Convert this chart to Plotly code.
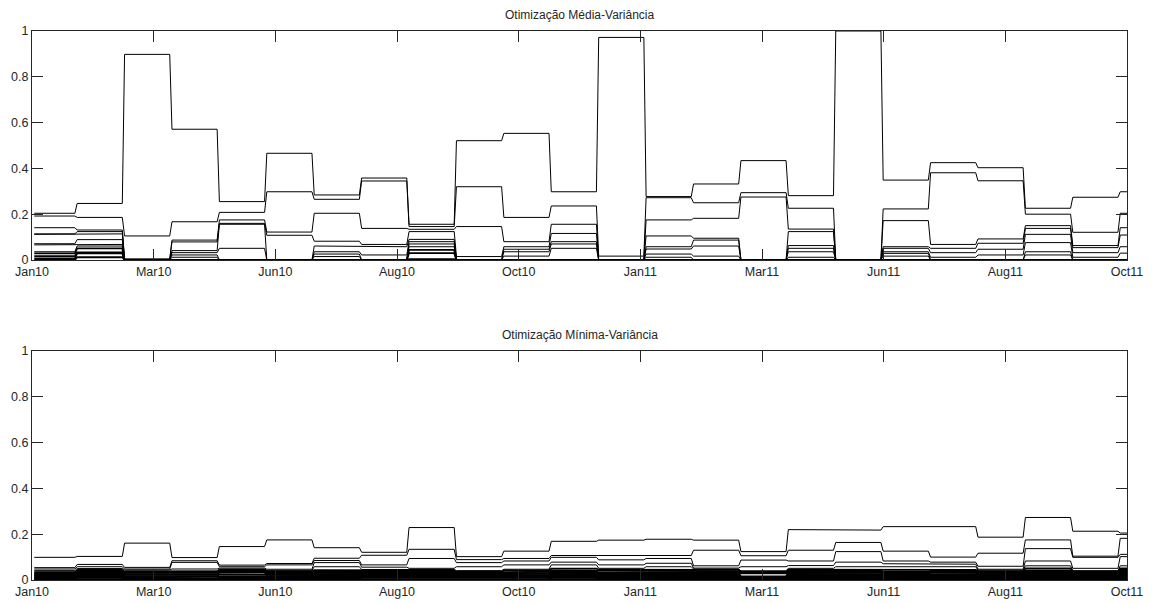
import plotly.graph_objects as go

# ---------------- data ----------------
tick_labels = ["Jan10", "Mar10", "Jun10", "Aug10", "Oct10",
               "Jan11", "Mar11", "Jun11", "Aug11", "Oct11"]

# first trading day of each rebalancing period, and the last day shown
period_start_day = [1, 20, 41, 62, 83, 104, 125, 146, 167, 188, 209, 230,
                    251, 272, 293, 314, 335, 356, 377, 398, 419, 440, 461, 482]
last_day = 485

# Mean-variance portfolio weights per period (one list per period)
mv_weights = [
    [0.204, 0.192, 0.141, 0.114, 0.112, 0.071, 0.066, 0.036, 0.029, 0.017, 0.007],
    [0.247, 0.186, 0.131, 0.124, 0.114, 0.089, 0.068, 0.061, 0.051, 0.033, 0.029, 0.012],
    [0.898, 0.105, 0.005],
    [0.571, 0.167, 0.087, 0.079, 0.041, 0.032, 0.022, 0.012],
    [0.255, 0.208, 0.175, 0.160, 0.156, 0.051],
    [0.466, 0.298, 0.122, 0.108],
    [0.284, 0.265, 0.204, 0.082, 0.061, 0.036, 0.026, 0.015],
    [0.358, 0.345, 0.138, 0.068, 0.058, 0.022],
    [0.156, 0.146, 0.134, 0.124, 0.090, 0.080, 0.070, 0.058, 0.044, 0.030, 0.004],
    [0.521, 0.320, 0.146, 0.015],
    [0.553, 0.186, 0.080, 0.058, 0.047, 0.036, 0.017],
    [0.298, 0.236, 0.156, 0.116, 0.080, 0.070, 0.051],
    [0.972, 0.017],
    [0.277, 0.272, 0.175, 0.105, 0.058, 0.048, 0.026, 0.012],
    [0.332, 0.250, 0.182, 0.095, 0.087, 0.061, 0.017],
    [0.434, 0.294, 0.275],
    [0.281, 0.226, 0.135, 0.124, 0.063, 0.051, 0.036, 0.012],
    [1.000],
    [0.349, 0.223, 0.172, 0.058, 0.051, 0.036, 0.029, 0.017],
    [0.425, 0.381, 0.068, 0.051, 0.032, 0.012],
    [0.403, 0.346, 0.092, 0.073, 0.047, 0.022],
    [0.226, 0.200, 0.150, 0.138, 0.112, 0.076, 0.036, 0.022],
    [0.274, 0.121, 0.063, 0.054, 0.032, 0.012],
    [0.298, 0.204, 0.141, 0.109, 0.058, 0.030],
]

# Minimum-variance portfolio weights per period
minvar_weights = [
    [0.099, 0.054, 0.048, 0.041, 0.036, 0.032, 0.028, 0.024, 0.020, 0.016, 0.012, 0.008, 0.004],
    [0.103, 0.068, 0.058, 0.050, 0.046, 0.042, 0.037, 0.033, 0.028, 0.024, 0.019, 0.014, 0.009, 0.004],
    [0.161, 0.055, 0.048, 0.044, 0.040, 0.035, 0.031, 0.026, 0.022, 0.017, 0.012, 0.007, 0.003],
    [0.098, 0.084, 0.077, 0.048, 0.040, 0.036, 0.031, 0.027, 0.022, 0.018, 0.013, 0.008, 0.004],
    [0.146, 0.065, 0.058, 0.052, 0.048, 0.044, 0.040, 0.036, 0.032, 0.024, 0.015, 0.011, 0.007, 0.003],
    [0.175, 0.072, 0.066, 0.047, 0.042, 0.038, 0.034, 0.030, 0.026, 0.021, 0.017, 0.012, 0.008, 0.004],
    [0.141, 0.095, 0.085, 0.076, 0.058, 0.043, 0.038, 0.034, 0.029, 0.025, 0.021, 0.017, 0.013, 0.009, 0.005],
    [0.121, 0.108, 0.066, 0.056, 0.046, 0.042, 0.037, 0.033, 0.028, 0.024, 0.019, 0.014, 0.009, 0.004],
    [0.229, 0.134, 0.094, 0.051, 0.046, 0.042, 0.037, 0.033, 0.028, 0.024, 0.019, 0.014, 0.009, 0.004],
    [0.102, 0.089, 0.076, 0.058, 0.041, 0.036, 0.033, 0.029, 0.025, 0.021, 0.017, 0.013, 0.009, 0.005],
    [0.126, 0.094, 0.083, 0.066, 0.047, 0.042, 0.036, 0.031, 0.027, 0.022, 0.018, 0.013, 0.009, 0.004],
    [0.169, 0.107, 0.099, 0.078, 0.066, 0.050, 0.042, 0.038, 0.033, 0.029, 0.024, 0.019, 0.014, 0.009, 0.004],
    [0.174, 0.104, 0.088, 0.066, 0.051, 0.045, 0.039, 0.033, 0.029, 0.025, 0.020, 0.015, 0.010, 0.005],
    [0.178, 0.107, 0.094, 0.073, 0.058, 0.044, 0.040, 0.036, 0.031, 0.027, 0.022, 0.017, 0.012, 0.008, 0.004],
    [0.174, 0.130, 0.062, 0.052, 0.048, 0.044, 0.039, 0.035, 0.030, 0.026, 0.021, 0.016, 0.011, 0.006, 0.002],
    [0.124, 0.106, 0.087, 0.058, 0.040, 0.036, 0.032, 0.029, 0.016, 0.012, 0.008, 0.004],
    [0.220, 0.130, 0.083, 0.063, 0.051, 0.045, 0.041, 0.036, 0.032, 0.027, 0.022, 0.017, 0.012, 0.008, 0.004],
    [0.218, 0.164, 0.124, 0.078, 0.058, 0.044, 0.040, 0.036, 0.031, 0.026, 0.021, 0.016, 0.011, 0.007, 0.003],
    [0.233, 0.126, 0.083, 0.071, 0.058, 0.044, 0.036, 0.031, 0.027, 0.023, 0.018, 0.013, 0.009, 0.005],
    [0.233, 0.100, 0.078, 0.069, 0.058, 0.044, 0.040, 0.036, 0.031, 0.026, 0.021, 0.016, 0.011, 0.007, 0.003],
    [0.187, 0.117, 0.060, 0.047, 0.043, 0.039, 0.034, 0.030, 0.025, 0.021, 0.016, 0.011, 0.007, 0.003],
    [0.273, 0.175, 0.137, 0.083, 0.062, 0.051, 0.042, 0.038, 0.034, 0.029, 0.025, 0.020, 0.015, 0.010, 0.006, 0.002],
    [0.213, 0.104, 0.099, 0.051, 0.041, 0.037, 0.033, 0.028, 0.024, 0.019, 0.015, 0.010, 0.006, 0.002],
    [0.205, 0.182, 0.112, 0.102, 0.062, 0.051, 0.045, 0.040, 0.035, 0.030, 0.025, 0.020, 0.015, 0.010, 0.005],
]

titles = ["Otimização Média-Variância", "Otimização Mínima-Variância"]

# ---------------- figure ----------------
AXCOL = "#262626"
FONT = "Liberation Sans, Arial, sans-serif"

period_end_day = [s - 1 for s in period_start_day[1:]] + [last_day]


def stair_traces(weights, xaxis, yaxis):
    n = max(len(w) for w in weights)
    traces = []
    for j in range(n):
        xs, ys = [], []
        for s, e, w in zip(period_start_day, period_end_day, weights):
            ranked = sorted(w, reverse=True)
            v = ranked[j] if j < len(ranked) else 0.0
            xs += [s, e]
            ys += [v, v]
        # the many tiny weights are drawn a bit wider so they merge into a band
        width = 1.8 if max(ys) < 0.06 else 1.0
        traces.append(go.Scatter(x=xs, y=ys, mode="lines",
                                 line=dict(color="#000000", width=width),
                                 xaxis=xaxis, yaxis=yaxis,
                                 hoverinfo="skip", showlegend=False))
    return traces


fig = go.Figure()
for t in stair_traces(mv_weights, "x", "y"):
    fig.add_trace(t)
for t in stair_traces(minvar_weights, "x2", "y2"):
    fig.add_trace(t)

# page body has an 8px margin: figure is placed at (8, 8) on screen
OFF = 8
W, H = 1144, 596
xdom = [(32 - OFF) / W, (1127 - OFF) / W]
top_dom = [1 - (260 - OFF) / H, 1 - (31 - OFF) / H]
bot_dom = [1 - (580 - OFF) / H, 1 - (351 - OFF) / H]

tickfont = dict(family=FONT, size=12.5, color=AXCOL)


def xax(anchor):
    return dict(domain=xdom, anchor=anchor, range=[0, last_day],
                tickmode="array",
                tickvals=[last_day * i / (len(tick_labels) - 1) for i in range(len(tick_labels))],
                ticktext=tick_labels, ticks="inside", ticklen=11, tickwidth=1,
                tickcolor=AXCOL, showline=True, linecolor=AXCOL, linewidth=1,
                mirror="ticks", showgrid=False, zeroline=False,
                tickfont=tickfont, automargin=False)


def yax(anchor, dom):
    return dict(domain=dom, anchor=anchor, range=[0, 1], tickmode="array",
                tickvals=[0, 0.2, 0.4, 0.6, 0.8, 1],
                ticktext=["0", "0.2", "0.4", "0.6", "0.8", "1"],
                ticks="inside", ticklen=11, tickwidth=1, tickcolor=AXCOL,
                showline=True, linecolor=AXCOL, linewidth=1, mirror="ticks",
                showgrid=False, zeroline=False, tickfont=tickfont,
                automargin=False)


fig.update_layout(
    width=W, height=H,
    margin=dict(l=0, r=0, t=0, b=0),
    paper_bgcolor="white", plot_bgcolor="white",
    xaxis=xax("y"), yaxis=yax("x", top_dom),
    xaxis2=xax("y2"), yaxis2=yax("x2", bot_dom),
    showlegend=False, hovermode=False,
)

for title, dom in zip(titles, [top_dom, bot_dom]):
    fig.add_annotation(text=title, xref="paper", yref="paper",
                       x=(xdom[0] + xdom[1]) / 2, y=dom[1],
                       xanchor="center", yanchor="bottom", yshift=7,
                       showarrow=False,
                       font=dict(family=FONT, size=12, color=AXCOL))

fig.write_html("out.html")
